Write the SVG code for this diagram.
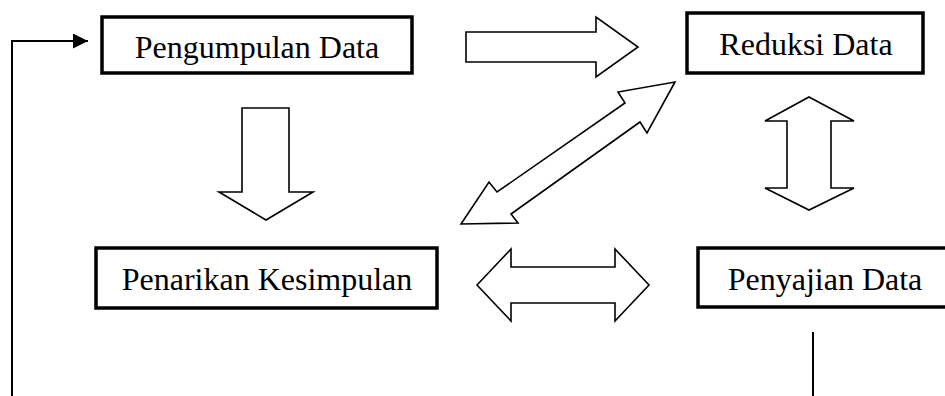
<svg xmlns="http://www.w3.org/2000/svg" width="945" height="396" viewBox="0 0 945 396">
<style>
.box{fill:#fff;stroke:#000;stroke-width:3.5}
.lbl{font-family:"Liberation Serif","Times New Roman",serif;font-size:32px;fill:#000;text-anchor:middle}
.blk{fill:#fff;stroke:#000;stroke-width:1.6;stroke-linejoin:miter}
.ln{fill:none;stroke:#000;stroke-width:2}
</style>
<defs>
<marker id="ah" markerWidth="16" markerHeight="16" refX="15" refY="7.5" orient="auto" markerUnits="userSpaceOnUse">
<path d="M0,0 L15,7.5 L0,15 Z" fill="#000"/>
</marker>
</defs>
<rect width="945" height="396" fill="#fff"/>
<g id="connectors">
<path class="ln" d="M12,396 V41 H88" marker-end="url(#ah)"/>
<line class="ln" x1="813" y1="332" x2="813" y2="396"/>
<polygon class="blk" points="466,32 596,32 596,17 638,47 596,77 596,62 466,62"/>
<polygon class="blk" points="242,108 289,108 289,192 313,192 266,220 219,192 242,192"/>
<polygon class="blk" points="809,97 854,121 831,121 831,188 854,188 809,210 765,188 787,188 787,121 765,121"/>
<polygon class="blk" points="477,285 511,249 511,267 615,267 615,249 649,285 615,321 615,303 511,303 511,321"/>
<polygon class="blk" points="675,82 647,133 640,122 511,214 518,223 461,224 489,182 497,192 625,103 618,92"/>
</g>
<g id="pengumpulan">
<rect class="box" x="102" y="17" width="310" height="56"/>
<text class="lbl" x="257" y="58">Pengumpulan Data</text>
</g>
<g id="reduksi">
<rect class="box" x="687" y="13" width="236" height="60"/>
<text class="lbl" x="806" y="55">Reduksi Data</text>
</g>
<g id="penarikan">
<rect class="box" x="96" y="248" width="341" height="60"/>
<text class="lbl" x="267" y="290">Penarikan Kesimpulan</text>
</g>
<g id="penyajian">
<rect class="box" x="698" y="248" width="260" height="59"/>
<text class="lbl" x="825" y="290">Penyajian Data</text>
</g>
</svg>
